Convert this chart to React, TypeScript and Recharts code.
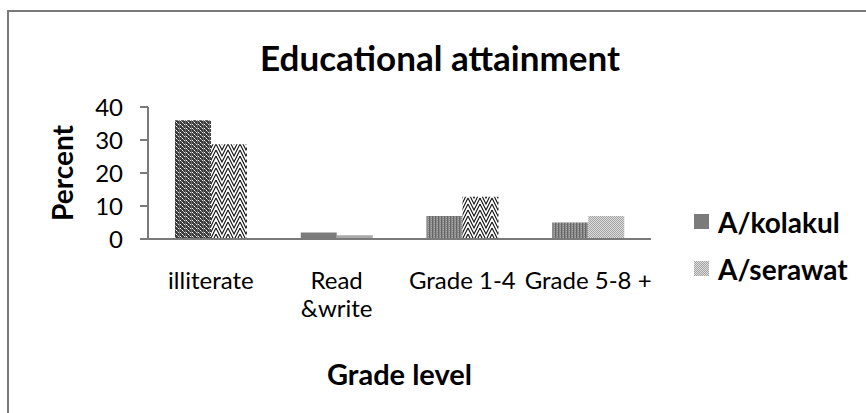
import React from 'react';
import { BarChart, Bar, XAxis, YAxis, Cell, Legend, Label } from 'recharts';

const categories = ['illiterate', 'Read\n&write', 'Grade 1-4', 'Grade 5-8 +'];
const kolakul = [36, 2, 7, 5];
const serawat = [28.7, 1.1, 12.8, 7];
const yTicks = [0, 10, 20, 30, 40];

const data = categories.map((name, i) => ({
  name,
  kolakul: kolakul[i],
  serawat: serawat[i],
}));

// per-bar fills (office-style pattern fills)
const kolakulFills = ['url(#pDark)', '#7b7b7b', 'url(#pGray)', 'url(#pGray)'];
const serawatFills = ['url(#pZig)', '#a9a9a9', 'url(#pZig)', 'url(#pLight)'];

const FONT = 'Lato, "Open Sans", sans-serif';

const Patterns = () => (
  <defs>
    <pattern id="pDark" width="6" height="4" patternUnits="userSpaceOnUse">
      <rect width="6" height="4" fill="#3c3c3c" />
      <rect x="0" y="0" width="1" height="1" fill="#ffffff" />
      <rect x="2" y="2" width="1" height="1" fill="#ffffff" />
      <rect x="4" y="0" width="1" height="1" fill="#e0e0e0" />
      <rect x="1" y="1" width="1" height="1" fill="#9a9a9a" />
      <rect x="3" y="3" width="1" height="1" fill="#9a9a9a" />
      <rect x="5" y="0" width="1" height="4" fill="#6a6a6a" />
    </pattern>
    <pattern id="pGray" width="3" height="2" patternUnits="userSpaceOnUse">
      <rect width="3" height="2" fill="#8a8a8a" />
      <rect x="0" y="0" width="1" height="2" fill="#666666" />
      <rect x="2" y="1" width="1" height="1" fill="#a8a8a8" />
    </pattern>
    <pattern id="pLight" width="2" height="2" patternUnits="userSpaceOnUse">
      <rect width="2" height="2" fill="#dcdcdc" />
      <rect x="0" y="0" width="1" height="1" fill="#a4a4a4" />
      <rect x="1" y="1" width="1" height="1" fill="#a4a4a4" />
    </pattern>
    <pattern id="pZig" width="12" height="6" patternUnits="userSpaceOnUse">
      <rect width="12" height="6" fill="#ffffff" />
      {[-12, -6, 0, 6].map((o) => (
        <polyline
          key={o}
          points={`0,${o} 6,${o + 12} 12,${o}`}
          fill="none"
          stroke="#111111"
          strokeWidth={1.1}
        />
      ))}
    </pattern>
  </defs>
);

const CategoryTick = (props: any) => {
  const { x, y, payload } = props;
  const lines = String(payload.value).split('\n');
  return (
    <g>
      {lines.map((line: string, i: number) => (
        <text
          key={i}
          x={x}
          y={y + 50 + i * 28}
          textAnchor="middle"
          fontFamily={FONT}
          fontSize={24}
          fill="#000"
        >
          {line}
        </text>
      ))}
    </g>
  );
};

const LegendBox = (props: any) => {
  const { payload } = props;
  return (
    <div style={{ fontFamily: FONT }}>
      {(payload || []).map((entry: any) => (
        <div key={entry.value} style={{ display: 'flex', alignItems: 'center', height: 47 }}>
          <svg width={15} height={15} style={{ marginRight: 9 }}>
            <rect width={15} height={15} fill={entry.color} />
          </svg>
          <span style={{ fontSize: 28, fontWeight: 700, color: '#000' }}>{entry.value}</span>
        </div>
      ))}
    </div>
  );
};

const App: React.FC = () => {
  return (
    <div
      style={{
        position: 'absolute',
        left: 0,
        top: 0,
        width: 866,
        height: 413,
        overflow: 'hidden',
        background: '#fff',
      }}
    >
      <div
        style={{
          position: 'absolute',
          left: 7,
          top: 10,
          width: 900,
          height: 440,
          border: '2px solid #7a7a7a',
        }}
      />
      <div
        style={{
          position: 'absolute',
          left: 0,
          top: 36,
          width: 880,
          textAlign: 'center',
          fontFamily: FONT,
          fontWeight: 700,
          fontSize: 35,
          lineHeight: '42px',
          color: '#000',
        }}
      >
        Educational attainment
      </div>
      <div style={{ position: 'absolute', left: 0, top: 0 }}>
        <BarChart
          width={866}
          height={413}
          data={data}
          margin={{ top: 107, right: 215, bottom: 144, left: 0 }}
          barGap={0}
          barSize={36}
        >
          <Patterns />
          <YAxis
            width={148}
            domain={[0, 40]}
            ticks={yTicks}
            interval={0}
            tickSize={8}
            tickMargin={17}
            axisLine={{ stroke: '#7a7a7a', strokeWidth: 2 }}
            tickLine={{ stroke: '#7a7a7a', strokeWidth: 2 }}
            tick={{ fill: '#000', fontSize: 24, fontFamily: FONT }}
          >
            <Label
              content={(p: any) => {
                const vb = p.viewBox;
                const cx = vb.x + 62;
                const cy = vb.y + vb.height / 2;
                return (
                  <text
                    x={cx}
                    y={cy}
                    transform={`rotate(-90 ${cx} ${cy})`}
                    textAnchor="middle"
                    dominantBaseline="central"
                    fontFamily={FONT}
                    fontWeight={700}
                    fontSize={28}
                    fill="#000"
                  >
                    Percent
                  </text>
                );
              }}
            />
          </YAxis>
          <XAxis
            dataKey="name"
            height={30}
            interval={0}
            tickLine={false}
            tickSize={0}
            tickMargin={0}
            axisLine={{ stroke: '#7a7a7a', strokeWidth: 2 }}
            tick={<CategoryTick />}
          >
            <Label
              content={(p: any) => {
                const vb = p.viewBox;
                return (
                  <text
                    x={vb.x + vb.width / 2}
                    y={vb.y + 146}
                    textAnchor="middle"
                    fontFamily={FONT}
                    fontWeight={700}
                    fontSize={29}
                    fill="#000"
                  >
                    Grade level
                  </text>
                );
              }}
            />
          </XAxis>
          <Legend
            layout="vertical"
            align="center"
            verticalAlign="middle"
            content={<LegendBox />}
            wrapperStyle={{ left: 694, top: 198, width: 170 }}
          />
          <Bar dataKey="kolakul" name="A/kolakul" fill="#7b7b7b" isAnimationActive={false}>
            {kolakul.map((_, i) => (
              <Cell key={i} fill={kolakulFills[i]} />
            ))}
          </Bar>
          <Bar dataKey="serawat" name="A/serawat" fill="url(#pLight)" isAnimationActive={false}>
            {serawat.map((_, i) => (
              <Cell key={i} fill={serawatFills[i]} />
            ))}
          </Bar>
        </BarChart>
      </div>
    </div>
  );
};

export default App;
